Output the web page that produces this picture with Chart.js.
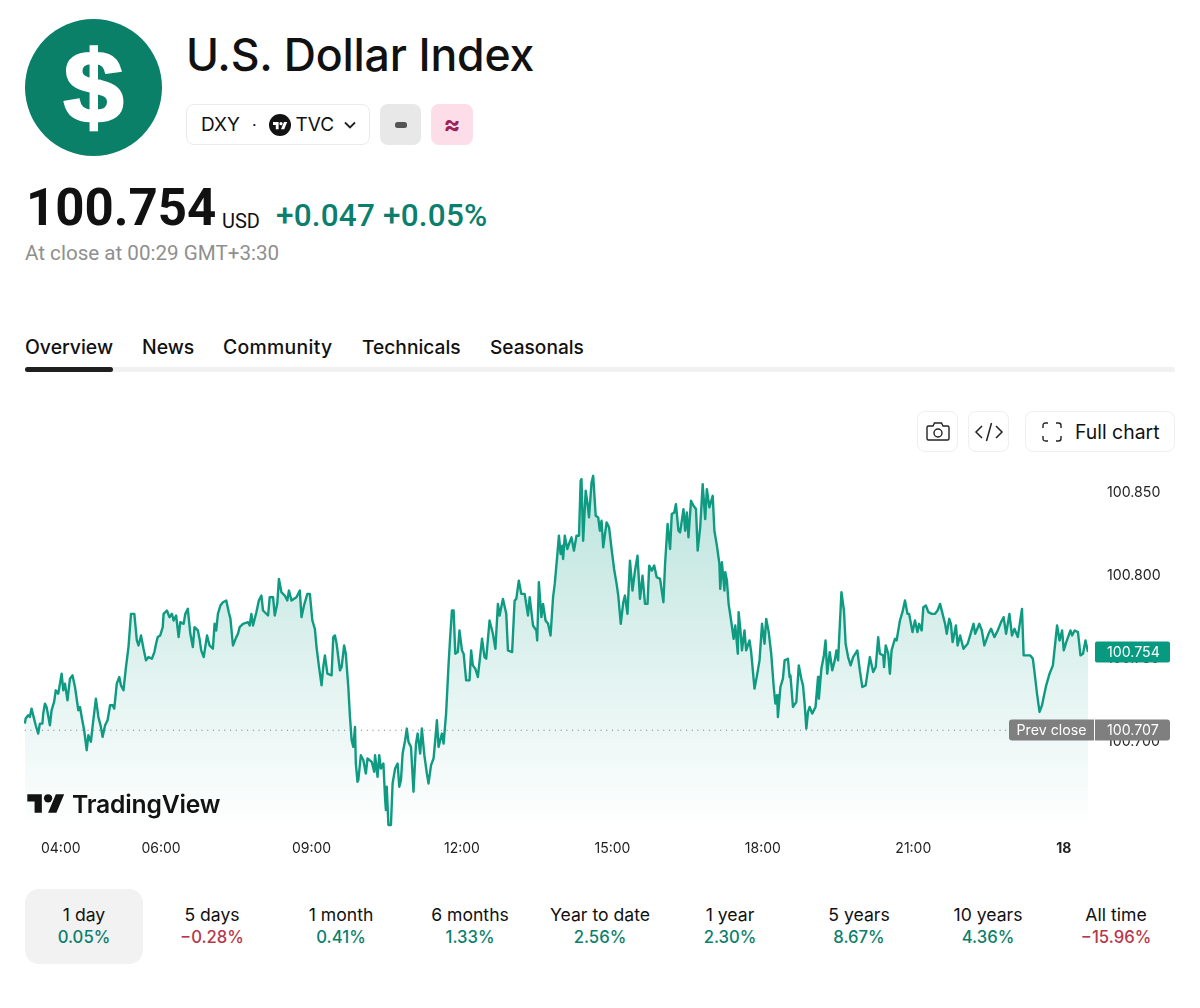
<!DOCTYPE html>
<html lang="en">
<head>
<meta charset="utf-8">
<title>U.S. Dollar Index</title>
<script src="https://cdn.jsdelivr.net/npm/chart.js@4"></script>
<style>
  html, body { margin: 0; padding: 0; background: #fff; }
  body { position: relative; width: 1200px; height: 1008px; overflow: hidden; font-family: Inter, "Noto Sans", sans-serif; color: #111; }
  .abs { position: absolute; white-space: nowrap; }
  .badge { border-radius: 8px; height: 41px; top: 104px; display: flex; align-items: center; justify-content: center; box-sizing: border-box; }
  .toolbtn { top: 411px; height: 41px; box-sizing: border-box; border: 1px solid #efefef; border-radius: 8px; display: flex; align-items: center; justify-content: center; background: #fff; }
  .tab { top: 335px; font-size: 19.4px; font-weight: 500; line-height: 24px; }
  #chartWrap { position: absolute; left: 0; top: 440px; width: 1200px; height: 420px; }
  .period { position: absolute; top: 889px; height: 75px; width: 118px; text-align: center; box-sizing: border-box; padding-top: 15px; font-size: 17.6px; line-height: 22px; color: #111; }
  .period.active { background: #f2f2f2; border-radius: 14px; }
  .period b { display: block; font-weight: 500; font-size: 16.7px; }
  .up { color: #0b7f6d; }
  .down { color: #b8374a; }
</style>
</head>
<body>
  <!-- Instrument header -->
  <svg class="abs" style="left:25px;top:19px" width="137" height="137" viewBox="0 0 137 137">
    <circle cx="68.5" cy="68.5" r="68.5" fill="#0a8069"/>
    <text x="68.5" y="103" text-anchor="middle" font-family="Liberation Sans" font-weight="700" font-size="102" fill="#fff" stroke="#fff" stroke-width="2.5" transform="translate(68.5 0) scale(1.06 1) translate(-68.5 0)">$</text>
  </svg>
  <div class="abs" style="left:186px;top:27px;font-size:44.6px;font-weight:500;line-height:56px;letter-spacing:-0.2px">U.S. Dollar Index</div>

  <div class="abs badge" style="left:186px;width:184px;border:1px solid #ebebeb;background:#fff;font-size:19px;justify-content:flex-start;padding-left:14px">
    <span>DXY</span>
    <span style="margin:0 12px;font-size:16px;line-height:16px">·</span>
    <svg width="22" height="22" viewBox="0 0 22 22"><circle cx="11" cy="11" r="11" fill="#131313"/><g transform="translate(4,6.5) scale(0.4)" fill="#fff"><path d="M14 22H7V11H0V4h14v18zM28 22h-8l7.5-18h8L28 22z"/><circle cx="20" cy="8" r="4"/></g></svg>
    <span style="margin-left:5px">TVC</span>
    <svg style="margin-left:9px" width="14" height="10" viewBox="0 0 14 10"><path d="M2 2.5l5 5 5-5" fill="none" stroke="#222" stroke-width="1.8"/></svg>
  </div>
  <div class="abs badge" style="left:380px;width:41px;background:#e8e8e8"><svg width="12" height="6"><rect width="12" height="6" rx="2.5" fill="#555"/></svg></div>
  <div class="abs badge" style="left:431px;width:42px;background:#fcdde8;color:#9c2558;font-size:25px;font-weight:700;line-height:41px">≈</div>

  <div class="abs" style="left:26px;top:178px;font-family:Roboto;font-weight:700;font-size:51px;line-height:60px" id="lastPrice"></div>
  <div class="abs" style="left:222px;top:209px;font-family:Roboto;font-size:20px;line-height:24px">USD</div>
  <div class="abs up" style="left:276px;top:198px;font-family:Roboto;font-weight:500;font-size:31.5px;line-height:36px;letter-spacing:.2px" id="change"></div>
  <div class="abs" style="left:25px;top:240px;font-family:Roboto;font-size:20.6px;line-height:26px;color:#8f8f8f">At close at 00:29 GMT+3:30</div>

  <!-- Section tabs -->
  <div class="abs tab" style="left:25px">Overview</div>
  <div class="abs tab" style="left:142px">News</div>
  <div class="abs tab" style="left:223px;letter-spacing:.3px">Community</div>
  <div class="abs tab" style="left:362px;font-size:19.2px">Technicals</div>
  <div class="abs tab" style="left:490px;font-size:19.1px">Seasonals</div>
  <div class="abs" style="left:25px;top:367px;width:1150px;height:5px;border-radius:3px;background:#f1f1f1"></div>
  <div class="abs" style="left:25px;top:367px;width:88px;height:5px;border-radius:3px;background:#1f1f1f"></div>

  <!-- Chart toolbar -->
  <div class="abs toolbtn" style="left:917px;width:41px">
    <svg width="26" height="22" viewBox="0 0 26 22" fill="none" stroke="#222" stroke-width="1.4"><path d="M2 6.500q0-1.500 1.500-1.500H8l1.500-3h7l1.500 3h4.500q1.500 0 1.500 1.500v11q0 1.500-1.500 1.500h-19Q2 19 2 17.500z"/><circle cx="13" cy="12" r="4"/></svg>
  </div>
  <div class="abs toolbtn" style="left:968px;width:41px">
    <svg width="30" height="22" viewBox="0 0 30 22" fill="none" stroke="#222" stroke-width="1.5"><path d="M8 5l-6 6 6 6M22 5l6 6-6 6M17.500 2l-5 18"/></svg>
  </div>
  <div class="abs toolbtn" style="left:1025px;width:150px;font-size:19.4px;justify-content:flex-start;padding-left:16px">
    <svg width="20" height="20" viewBox="0 0 20 20" fill="none" stroke="#222" stroke-width="1.4"><path d="M1 6V3.500Q1 1 3.500 1H6M14 1h2.500Q19 1 19 3.500V6M19 14v2.500q0 2.500-2.500 2.500H14M6 19H3.500Q1 19 1 16.500V14"/></svg>
    <span style="margin-left:13px">Full chart</span>
  </div>

  <div id="chartWrap"><canvas id="chart" width="1200" height="420"></canvas></div>

  <!-- Broker wordmark over the plot -->
  <svg class="abs" style="left:27px;top:790px" width="38" height="27" viewBox="0 0 36 26"><g fill="#131313"><path d="M14 22H7V11H0V4h14v18zM28 22h-8l7.500-18h8L28 22z"/><circle cx="20" cy="8" r="4"/></g></svg>
  <div class="abs" style="left:72px;top:788px;font-size:24.7px;font-weight:600;line-height:32px;color:#131313;letter-spacing:-0.2px">TradingView</div>

  <div id="periods"></div>

<script>
// Quote summary
const lastClose = 100.754;
const prevClose = 100.707;
const changeText = "+0.047 +0.05%";

// Intraday series: minutes after midnight of the previous day, and index level
const minutes = [
  197,198,201,203,205,208,210,213,215,218,219,221,223,227,229,
  232,234,237,241,243,245,248,251,254,257,261,263,265,268,271,
  273,276,278,282,285,288,290,293,296,299,302,304,307,310,312,
  315,318,321,324,328,331,333,336,339,342,345,349,352,354,356,
  359,362,363,367,370,373,375,378,381,383,387,389,392,395,398,
  400,404,406,408,411,415,418,422,424,426,428,431,434,438,441,
  443,446,450,452,454,458,464,466,468,470,474,477,480,482,488,
  490,494,496,499,501,504,508,511,513,516,522,526,528,531,535,
  538,541,544,546,549,552,554,556,559,564,566,568,570,574,576,
  579,581,584,586,588,590,592,593,595,596,599,602,605,607,612,
  615,616,619,621,623,626,628,629,630,632,635,637,640,643,645,
  647,649,652,654,656,659,662,665,667,670,672,675,678,680,683,
  686,688,690,692,696,698,701,704,706,708,710,712,715,717,720,
  722,725,729,731,733,736,739,744,747,749,753,757,760,763,765,
  769,773,775,780,783,785,788,791,795,799,801,805,809,810,812,
  815,817,820,823,826,829,831,834,836,838,840,841,843,846,848,
  851,854,857,860,862,863,865,868,870,872,875,877,880,883,885,
  887,889,893,896,899,902,905,907,910,913,915,918,921,924,927,
  930,933,936,939,942,944,947,950,953,957,961,963,966,969,971,
  974,976,979,981,985,987,989,991,994,997,1000,1002,1005,1008,1011,
  1013,1016,1020,1022,1025,1028,1029,1031,1034,1035,1037,1039,1042,1045,1047,
  1050,1051,1053,1055,1058,1060,1064,1066,1070,1073,1076,1079,1082,1084,1087,
  1090,1093,1095,1097,1098,1101,1104,1106,1110,1112,1113,1116,1120,1123,1126,
  1128,1130,1132,1134,1136,1139,1143,1146,1147,1150,1153,1155,1157,1160,1163,
  1166,1168,1170,1174,1177,1179,1182,1185,1188,1193,1196,1199,1203,1208,1212,
  1215,1218,1220,1224,1225,1227,1230,1232,1234,1238,1240,1244,1247,1250,1253,
  1255,1259,1262,1265,1267,1270,1272,1275,1278,1282,1286,1289,1292,1295,1298,
  1300,1303,1305,1307,1311,1313,1316,1320,1325,1328,1332,1334,1339,1342,1345,
  1350,1353,1357,1361,1365,1368,1371,1375,1378,1381,1385,1390,1392,1395,1400,
  1403,1405,1408,1411,1414,1416,1419,1423,1427,1432,1435,1438,1440,1443,1448,
  1450,1453,1457,1460,1463,1466,1469
];
const closes = [
  100.711,100.714,100.716,100.715,100.720,100.714,100.710,100.705,100.711,100.711,100.717,100.723,100.721,100.710,100.719,
  100.724,100.731,100.729,100.741,100.731,100.735,100.725,100.738,100.740,100.733,100.719,100.721,100.715,100.707,100.695,
  100.704,100.700,100.709,100.726,100.715,100.709,100.703,100.710,100.713,100.722,100.722,100.720,100.735,100.739,100.734,
  100.731,100.745,100.757,100.777,100.777,100.761,100.758,100.764,100.756,100.749,100.751,100.750,100.754,100.759,100.763,
  100.764,100.769,100.777,100.779,100.775,100.777,100.773,100.776,100.763,100.772,100.771,100.777,100.780,100.765,100.757,
  100.769,100.767,100.762,100.755,100.751,100.764,100.758,100.756,100.771,100.767,100.777,100.782,100.784,100.785,100.778,
  100.774,100.758,100.763,100.765,100.769,100.771,100.772,100.770,100.777,100.770,100.778,100.785,100.788,100.779,100.776,
  100.787,100.787,100.776,100.783,100.798,100.790,100.788,100.785,100.791,100.785,100.787,100.791,100.775,100.782,100.789,
  100.789,100.773,100.768,100.757,100.745,100.734,100.745,100.752,100.741,100.740,100.763,100.764,100.759,100.743,100.745,
  100.758,100.753,100.733,100.715,100.701,100.697,100.709,100.687,100.676,100.677,100.692,100.689,100.681,100.690,100.688,
  100.682,100.692,100.679,100.692,100.684,100.687,100.666,100.659,100.673,100.650,100.650,100.675,100.684,100.687,100.673,
  100.677,100.693,100.701,100.708,100.700,100.697,100.670,100.699,100.705,100.693,100.708,100.692,100.681,100.675,100.686,
  100.690,100.701,100.713,100.697,100.705,100.699,100.717,100.747,100.764,100.779,100.779,100.753,100.754,100.767,100.755,
  100.753,100.737,100.737,100.755,100.746,100.744,100.739,100.762,100.751,100.750,100.773,100.765,100.756,100.783,100.776,
  100.786,100.777,100.755,100.754,100.785,100.786,100.797,100.789,100.789,100.776,100.787,100.770,100.767,100.761,100.796,
  100.775,100.783,100.773,100.771,100.764,100.787,100.795,100.812,100.824,100.813,100.818,100.810,100.824,100.816,100.819,
  100.823,100.815,100.824,100.824,100.857,100.858,100.821,100.851,100.844,100.835,100.856,100.860,100.836,100.835,100.827,
  100.833,100.817,100.832,100.829,100.816,100.804,100.795,100.788,100.771,100.784,100.788,100.777,100.809,100.791,100.803,
  100.812,100.786,100.800,100.783,100.783,100.806,100.803,100.806,100.799,100.798,100.784,100.807,100.831,100.816,100.837,
  100.838,100.843,100.827,100.826,100.840,100.827,100.838,100.823,100.845,100.842,100.840,100.815,100.829,100.855,100.834,
  100.852,100.841,100.848,100.827,100.818,100.807,100.792,100.808,100.791,100.802,100.797,100.783,100.773,100.762,100.770,
  100.753,100.778,100.768,100.755,100.767,100.755,100.761,100.754,100.732,100.740,100.749,100.771,100.759,100.774,100.766,
  100.753,100.733,100.723,100.728,100.715,100.733,100.738,100.749,100.750,100.739,100.740,100.721,100.724,100.746,100.738,
  100.734,100.723,100.708,100.718,100.721,100.717,100.721,100.739,100.726,100.744,100.752,100.761,100.741,100.754,100.743,
  100.749,100.755,100.749,100.790,100.779,100.759,100.751,100.746,100.751,100.755,100.743,100.733,100.734,100.751,100.742,
  100.745,100.763,100.753,100.752,100.745,100.758,100.753,100.741,100.755,100.762,100.761,100.773,100.778,100.785,100.777,
  100.777,100.766,100.773,100.766,100.771,100.767,100.781,100.782,100.778,100.777,100.777,100.779,100.783,100.777,100.771,
  100.765,100.774,100.771,100.760,100.770,100.758,100.764,100.756,100.759,100.764,100.771,100.765,100.771,100.767,100.758,
  100.765,100.768,100.763,100.767,100.772,100.775,100.765,100.777,100.764,100.768,100.763,100.780,100.752,100.752,100.752,
  100.750,100.742,100.729,100.718,100.722,100.727,100.734,100.741,100.746,100.770,100.761,100.767,100.755,100.760,100.767,
  100.764,100.767,100.766,100.752,100.753,100.761,100.754
];

// Axis ticks
const timeTicks = [240, 360, 540, 720, 900, 1080, 1260, 1440];
const timeLabels = ["04:00", "06:00", "09:00", "12:00", "15:00", "18:00", "21:00", "18"];
const priceTicks = [100.70, 100.75, 100.80, 100.85];

// Return per look-back period
const periodNames = ["1 day", "5 days", "1 month", "6 months", "Year to date", "1 year", "5 years", "10 years", "All time"];
const periodReturns = ["0.05%", "−0.28%", "0.41%", "1.33%", "2.56%", "2.30%", "8.67%", "4.36%", "−15.96%"];
const periodCenters = [84, 212, 341, 470, 600, 730, 859, 988, 1116];

document.getElementById("lastPrice").textContent = lastClose.toFixed(3);
document.getElementById("change").textContent = changeText;

const periodsEl = document.getElementById("periods");
periodNames.forEach((name, i) => {
  const cell = document.createElement("div");
  cell.className = "period" + (i === 0 ? " active" : "");
  cell.style.left = (periodCenters[i] - 59) + "px";
  const ret = document.createElement("b");
  ret.className = periodReturns[i].startsWith("−") ? "down" : "up";
  ret.textContent = periodReturns[i];
  cell.textContent = name;
  cell.appendChild(ret);
  periodsEl.appendChild(cell);
});

// Price tags on the value axis, placed through the y scale
const priceTags = {
  id: "priceTags",
  afterDraw(chart) {
    const { ctx, scales: { y } } = chart;
    const tag = (x, w, value, color, text, align, radii) => {
      const cy = y.getPixelForValue(value);
      ctx.save();
      ctx.fillStyle = color;
      ctx.beginPath();
      ctx.roundRect(x, Math.round(cy) - 10.5, w, 21, radii);
      ctx.fill();
      ctx.fillStyle = "#fff";
      ctx.font = "14.2px Inter";
      ctx.textBaseline = "middle";
      ctx.textAlign = align;
      ctx.fillText(text, align === "center" ? x + w / 2 : x + 12, Math.round(cy) + 1);
      ctx.restore();
    };
    tag(1095, 75, lastClose, "#089981", lastClose.toFixed(3), "left", 2);
    tag(1009, 85, prevClose, "#7f7f7f", "Prev close", "center", [3, 0, 0, 3]);
    tag(1095, 75, prevClose, "#7f7f7f", prevClose.toFixed(3), "left", [0, 3, 3, 0]);
  }
};

new Chart(document.getElementById("chart"), {
  type: "line",
  data: {
    datasets: [
      {
        label: "DXY",
        data: minutes.map((m, i) => ({ x: m, y: closes[i] })),
        borderColor: "#0f9a82",
        borderWidth: 2.4,
        borderJoinStyle: "round",
        pointRadius: 0,
        tension: 0,
        fill: "start",
        backgroundColor(context) {
          const area = context.chart.chartArea;
          if (!area) return "rgba(8,153,129,0.2)";
          const g = context.chart.ctx.createLinearGradient(0, area.top, 0, area.bottom);
          g.addColorStop(0, "rgba(8,153,129,0.28)");
          g.addColorStop(1, "rgba(8,153,129,0)");
          return g;
        }
      },
      {
        label: "Prev close",
        data: [{ x: minutes[0], y: prevClose }, { x: minutes[minutes.length - 1], y: prevClose }],
        borderColor: "#777",
        borderWidth: 1,
        borderDash: [1, 4.7],
        pointRadius: 0,
        fill: false
      }
    ]
  },
  options: {
    responsive: false,
    animation: false,
    events: [],
    layout: { padding: { left: 24, top: 0, right: 0, bottom: 0 } },
    plugins: { legend: { display: false }, tooltip: { enabled: false } },
    scales: {
      x: {
        type: "linear",
        min: 196,
        max: 1469,
        grid: { display: false, drawTicks: false },
        border: { display: false },
        afterBuildTicks(axis) { axis.ticks = timeTicks.map(v => ({ value: v })); },
        afterFit(axis) { axis.height = 30; },
        ticks: {
          autoSkip: false,
          maxRotation: 0,
          padding: 10,
          color: "#222",
          font: ctx => ({ family: "Inter", size: 14, weight: ctx.index === timeTicks.length - 1 ? "700" : "400" }),
          callback: v => timeLabels[timeTicks.indexOf(v)]
        }
      },
      y: {
        position: "right",
        min: 100.647,
        max: 100.865,
        grid: { display: false, drawTicks: false },
        border: { display: false },
        afterBuildTicks(axis) { axis.ticks = priceTicks.map(v => ({ value: v })); },
        afterFit(axis) { axis.width = 112; },
        ticks: {
          padding: 19,
          color: "#222",
          font: { family: "Inter", size: 14.2 },
          callback: v => v.toFixed(3)
        }
      }
    }
  },
  plugins: [priceTags]
});
</script>
</body>
</html>
